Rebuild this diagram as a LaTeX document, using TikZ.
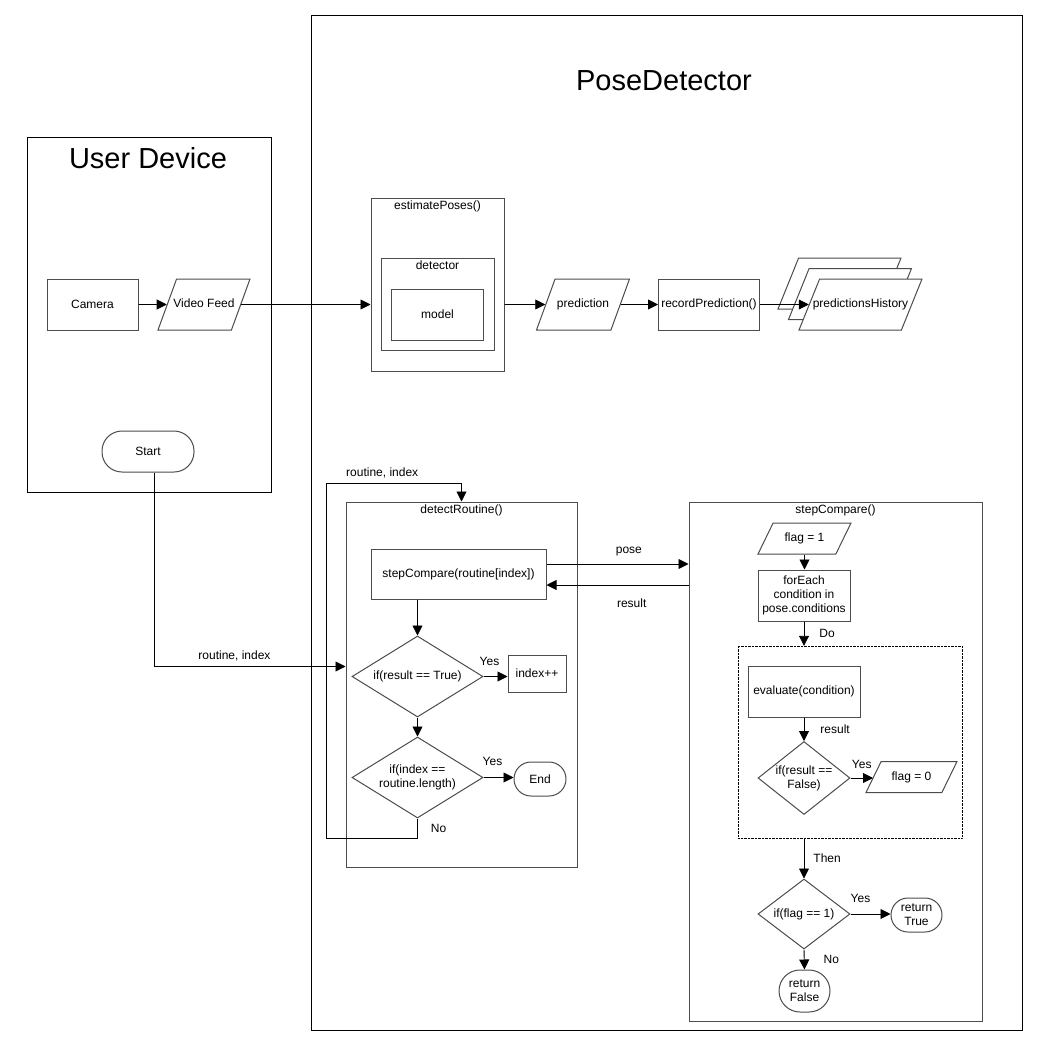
\documentclass[tikz,border=0pt]{standalone}
\usepackage{fontspec}
\setmainfont{Liberation Sans}
\usetikzlibrary{shapes.geometric}
\usetikzlibrary{arrows.meta}
\colorlet{boxline}{black!70}

\tikzset{
  base/.style={draw=boxline, line width=1pt, fill=white, align=center,
    inner sep=1pt, font=\fontsize{12}{14}\selectfont},
  proc/.style={base, rectangle},
  io/.style={base, trapezium, trapezium left angle=70, trapezium right angle=110,
    trapezium stretches body, text height=9pt, text depth=3pt,
    inner xsep=-8pt, inner ysep=19.5pt},
  flatio/.style={io, trapezium left angle=64, trapezium right angle=116, inner ysep=9.5pt},
  term/.style={base, rectangle, rounded corners=#1},
  decision/.style={base, diamond, inner sep=0pt},
  frame/.style={draw=boxline, line width=1pt, rectangle, inner sep=0pt},
  loopbox/.style={draw=black, densely dotted, rectangle, inner sep=0pt},
  outer/.style={draw=black, line width=0.8pt},
  caption/.style={anchor=north, inner sep=3pt, font=\fontsize{12}{14}\selectfont},
  lbl/.style={inner sep=1pt, align=center, font=\fontsize{12}{14}\selectfont},
  title/.style={inner sep=0pt, font=\fontsize{29}{34}\selectfont},
  flow/.style={draw=black, line width=0.9pt, -{Triangle[length=10pt,width=10pt]}}
}

\begin{document}
\begin{tikzpicture}[x=1pt,y=-1pt]
  \useasboundingbox (0,0) rectangle (1052,1053);
  % Frames
  \draw[outer] (27,137) rectangle (271,492);
  \node[title] (udtitle) at (148,158) {User Device};
  \draw[outer] (311,15) rectangle (1022,1030);
  \node[title] (pdtitle) at (664,81) {PoseDetector};

  % User device
  \node[proc, minimum width=91, minimum height=51] (camera) at (92.5,304.5) {Camera};
  \node[io, minimum width=92] (feed) at (204,304.5) {Video Feed};
  \node[term=20pt, minimum width=92, minimum height=41] (start) at (148,451.5) {Start};

  % Pose estimation
  \node[frame, minimum width=133, minimum height=173] (est) at (437.5,284.5) {};
  \node[caption] (esttxt) at (est.north) {estimatePoses()};
  \node[frame, minimum width=113, minimum height=92] (det) at (437.5,304.5) {};
  \node[caption] (dettxt) at (det.north) {detector};
  \node[proc, minimum width=92, minimum height=51] (model) at (437.5,314.5) {model};
  \node[io, minimum width=93] (pred) at (583,304.5) {prediction};
  \node[proc, minimum width=101, minimum height=51] (rec) at (709,304.5) {recordPrediction()};
  \node[io, trapezium left angle=68, trapezium right angle=112,
    minimum width=123] (hist2) at (839.5,283.5) {};
  \node[io, trapezium left angle=68, trapezium right angle=112,
    minimum width=123] (hist1) at (850,294) {};
  \node[io, trapezium left angle=68, trapezium right angle=112,
    minimum width=123] (hist) at (860.5,304.5) {predictionsHistory};

  \draw[flow] (camera) -- (feed);
  \draw[flow] (feed.east) -- (feed.east -| est.west);
  \draw[flow] (est.east |- pred) -- (pred);
  \draw[flow] (pred) -- (rec);
  \draw[flow] (rec) -- (hist);

  % detectRoutine
  \node[frame, minimum width=231, minimum height=365] (dr) at (461.5,684.5) {};
  \node[caption] (drtxt) at (dr.north) {detectRoutine()};
  \node[proc, minimum width=175, minimum height=50] (scr) at (458.5,574) {stepCompare(routine[index])};
  \node[decision, minimum width=131, minimum height=81] (d1) at (417.5,676.5) {};
  \node[lbl] (d1txt) at (d1) {if(result == True)};
  \node[proc, minimum width=58, minimum height=37] (inc) at (537,673.5) {index++};
  \node[decision, minimum width=131, minimum height=81] (d2) at (417.5,777.5) {};
  \node[lbl] (d2txt) at (d2) {if(index ==\\routine.length)};
  \node[term=17pt, minimum width=52, minimum height=34] (end) at (540,779) {End};
  \coordinate (loopbl) at (326,838);
  \coordinate (looptl) at (326,483);

  \draw[flow] ([xshift=6pt]start.south) |- node[lbl, above=4pt, pos=0.71] {routine, index} ([yshift=18pt]dr.west);
  \draw[flow] (scr.south -| d1.north) -- (d1.north);
  \draw[flow] (d1.east) -- node[lbl, above=9pt, pos=0.25] {Yes} (d1.east -| inc.west);
  \draw[flow] (d1.south) -- (d2.north);
  \draw[flow] (d2.east) -- node[lbl, above=10pt, pos=0.3] {Yes} (d2.east -| end.west);
  \draw[flow] (d2.south) -- node[lbl, right=12pt] {No} (d2.south |- loopbl) -- (loopbl) -- (looptl)
    -- node[lbl, above=4pt, pos=0.415] {routine, index} (looptl -| dr.north) -- (dr.north);

  % stepCompare
  \node[frame, minimum width=293, minimum height=519] (sc) at (835.5,761.5) {};
  \node[caption] (sctxt) at (sc.north) {stepCompare()};
  \node[flatio, minimum width=93] (flag1) at (804.5,538.5) {flag = 1};
  \node[proc, minimum width=92, minimum height=51] (each) at (804,595.5) {forEach\\condition in\\pose.conditions};
  \node[loopbox, minimum width=224, minimum height=192] (body) at (850,742) {};
  \node[proc, minimum width=112, minimum height=51] (eval) at (804,691.5) {evaluate(condition)};
  \node[decision, minimum width=92, minimum height=73] (d3) at (804,778) {};
  \node[lbl] (d3txt) at (d3) {if(result ==\\False)};
  \node[flatio, minimum width=91] (flag0) at (911.5,777) {flag = 0};
  \node[decision, minimum width=92, minimum height=70] (d4) at (804,914) {};
  \node[lbl] (d4txt) at (d4) {if(flag == 1)};
  \node[term=17pt, minimum width=51, minimum height=34] (rtrue) at (916.5,915) {return\\True};
  \node[term=21pt, minimum width=51, minimum height=42] (rfalse) at (804.5,991) {return\\False};

  \draw[flow] ([yshift=10pt]scr.east) -- node[lbl, above=7pt, pos=0.58] {pose} ([yshift=10pt]scr.east -| sc.west);
  \draw[flow] ([yshift=-11pt]scr.east -| sc.west) -- node[lbl, below=12pt, pos=0.4] {result} ([yshift=-11pt]scr.east);
  \draw[flow] (flag1.south) -- (flag1.south |- each.north);
  \draw[flow] (each.south) -- node[lbl, right=14pt] {Do} (each.south |- body.north);
  \draw[flow] (eval.south) -- node[lbl, right=15pt] {result} (d3.north);
  \draw[flow] (d3.east) -- node[lbl, above=8pt] {Yes} (d3.east -| flag0.west);
  \draw[flow] (each.south |- body.south) -- node[lbl, right=8pt] {Then} (d4.north);
  \draw[flow] (d4.east) -- node[lbl, above=10pt, pos=0.25] {Yes} (d4.east -| rtrue.west);
  \draw[flow] (d4.south) -- node[lbl, right=18pt] {No} (rfalse.north);
\end{tikzpicture}
\end{document}
